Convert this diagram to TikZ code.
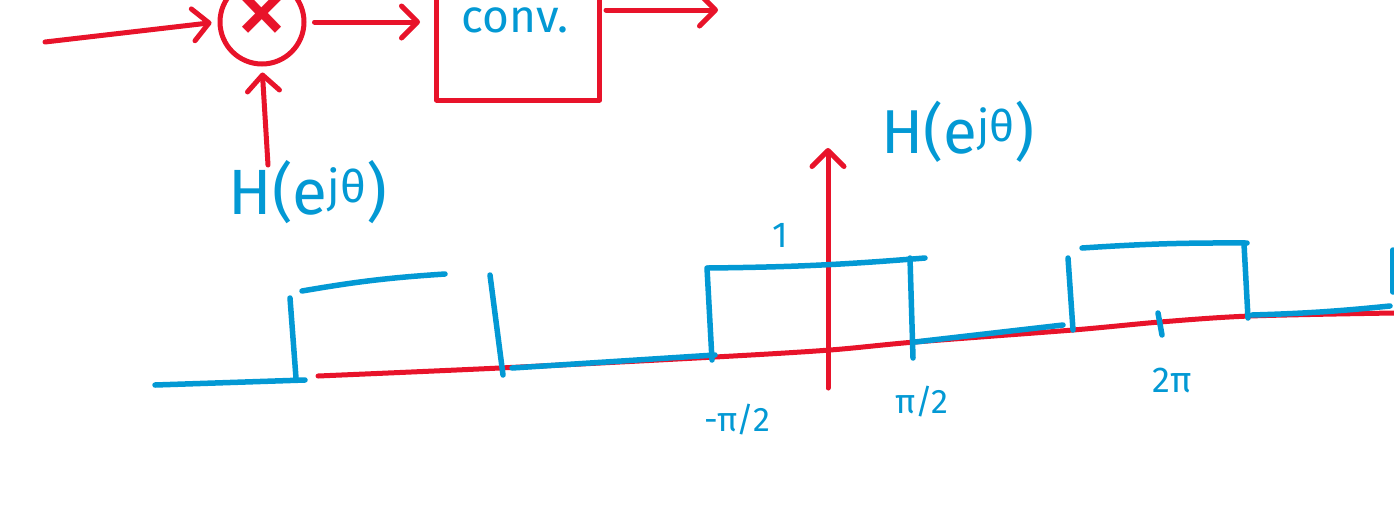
\documentclass[tikz,border=0pt]{standalone}
\usepackage{fontspec}
\setmainfont{Fira Sans}
\usetikzlibrary{arrows.meta}
\definecolor{inkred}{HTML}{E8132A}
\definecolor{inkblue}{HTML}{0399D4}
\tikzset{
  redink/.style={draw=inkred, line width=5pt, line cap=round, line join=round},
  blueink/.style={draw=inkblue, line width=5.5pt, line cap=round, line join=round},
  redarrow/.style={redink, -{Straight Barb[length=16pt,width=32pt,line width=5pt,round]}},
  lbl/.style={text=inkblue, inner sep=0pt},
}
\begin{document}
\begin{tikzpicture}[x=1pt,y=-1pt]
\useasboundingbox (0,0) rectangle (1394,507);
\clip (0,0) rectangle (1394,507);
\fill[white] (0,0) rectangle (1394,507);

% ---------- block diagram ----------
\node[circle, redink, minimum size=84pt, inner sep=0pt] (mult) at (262,22) {};
\node[text=inkred, inner sep=0pt, font=\fontsize{110}{110}\selectfont] (x) at (262,21) {×};
\node[rectangle, redink, minimum width=163pt, minimum height=200pt, inner sep=0pt] (box) at (518,0) {};
\node[lbl, anchor=base, font=\fontsize{46}{48}\selectfont] (conv) at (515,32) {conv.};

\coordinate (in) at (45,42);
\coordinate (out) at (718,10);
\coordinate (hin) at (268,165);

\draw[redarrow, shorten >=6pt] (in) -- (mult.west);
\draw[redarrow, shorten >=14pt, shorten <=8pt] (mult.east) -- (mult.east -| box.west);
\draw[redarrow, shorten <=4pt] (box.east |- out) -- (out);
\draw[redarrow, shorten >=6pt] (hin) -- (mult.south);
\node[lbl, font=\fontsize{64}{66}\selectfont] (h1) at (308,192) {H(e\textsuperscript{jθ})};

% ---------- graph ----------
\draw[redink] plot[smooth] coordinates {(318,376) (500,368) (715,357) (830,350) (915,342) (1073,330) (1160,322) (1250,316) (1394,313)};
\coordinate (yb) at (828,388);
\coordinate (yt) at (828,148);
\draw[redarrow] (yb) -- (yt);
\node[lbl, font=\fontsize{62}{64}\selectfont] (h2) at (958,132) {H(e\textsuperscript{jθ})};

% left copy
\draw[blueink] (155,385) -- (305,380);
\draw[blueink] (290,298) -- (296,378);
\draw[blueink] (302,291) to[bend left=3] (445,274);
\draw[blueink] (490,275) -- (503,375);
\draw[blueink] (512,368) -- (715,355);
% centre copy
\draw[blueink] (707,268) -- (712,360);
\draw[blueink] (708,268) to[bend right=2] (925,258);
\draw[blueink] (910,258) -- (913,358);
\draw[blueink] (915,342) -- (1063,325);
% right copy
\draw[blueink] (1068,258) -- (1073,330);
\draw[blueink] (1082,248) to[bend left=2] (1247,243);
\draw[blueink] (1244,244) -- (1248,318);
\draw[blueink] (1252,315) to[bend right=2] (1390,306);
\draw[blueink] (1393,250) -- (1393,292);
\draw[blueink] (1158,313) -- (1162,335);

% labels
\node[lbl, font=\fontsize{36}{38}\selectfont] (one) at (780,235) {1};
\node[lbl, font=\fontsize{34}{36}\selectfont] (mpi) at (737,420) {-π/2};
\node[lbl, font=\fontsize{34}{36}\selectfont] (ppi) at (922,402) {π/2};
\node[lbl, font=\fontsize{36}{38}\selectfont] (tpi) at (1172,380) {2π};
\end{tikzpicture}
\end{document}
